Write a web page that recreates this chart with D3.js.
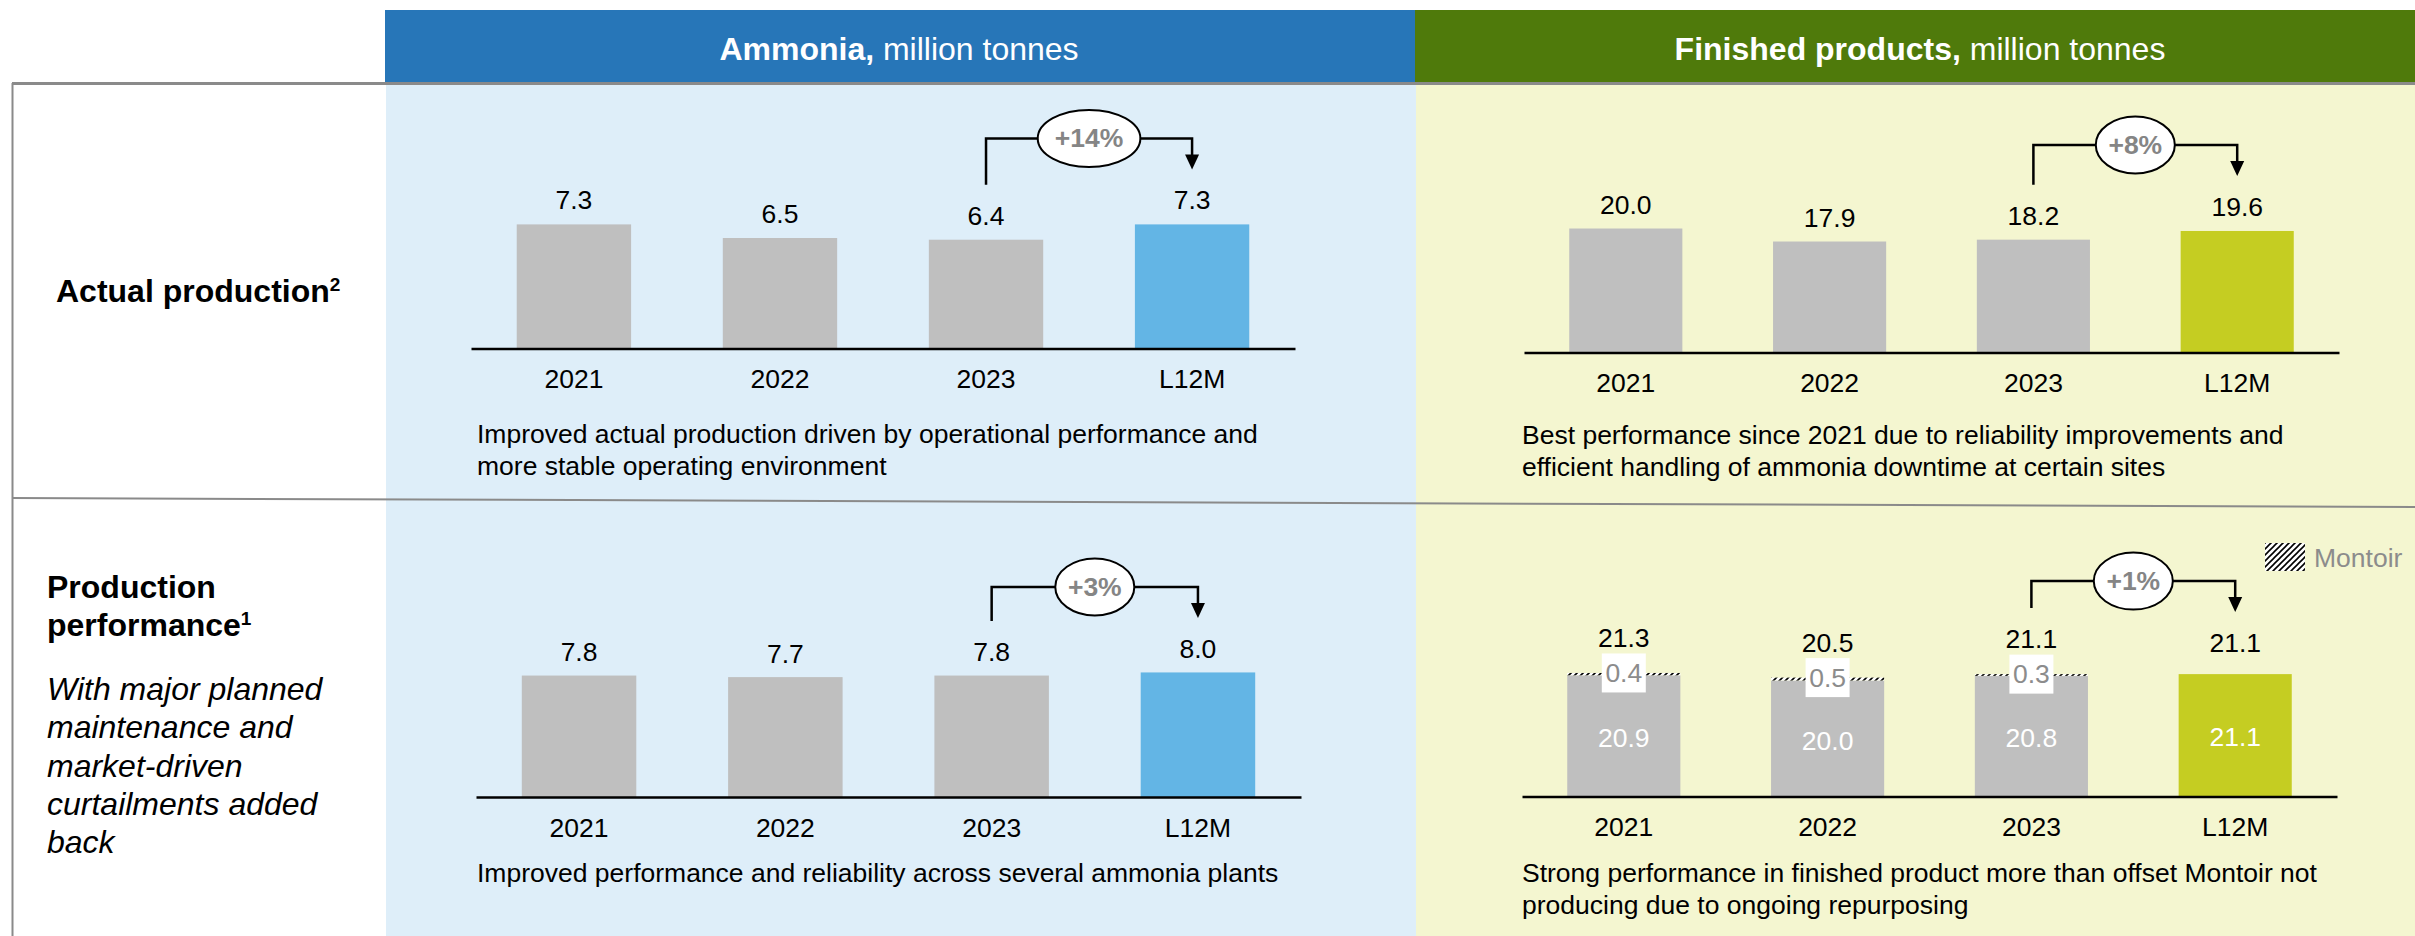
<!DOCTYPE html>
<html>
<head>
<meta charset="utf-8">
<script src="https://cdn.jsdelivr.net/npm/d3@7"></script>
<style>
  html, body { margin: 0; padding: 0; background: #fff; }
  svg { display: block; font-family: "Liberation Sans", Arial, sans-serif; }
</style>
</head>
<body>
<svg id="chart"></svg>
<script>
// --- data ---
const categories = ["2021", "2022", "2023", "L12M"];

const ammoniaActual = [7.3, 6.5, 6.4, 7.3];
const finishedActual = [20.0, 17.9, 18.2, 19.6];
const ammoniaPerformance = [7.8, 7.7, 7.8, 8.0];
const finishedPerformance = [20.9, 20.0, 20.8, 21.1];   // excl. Montoir
const montoir = [0.4, 0.5, 0.3, 0];
const finishedPerformanceTotal = [21.3, 20.5, 21.1, 21.1];

const changes = ["+14%", "+8%", "+3%", "+1%"];

const headers = [["Ammonia,", " million tonnes"], ["Finished products,", " million tonnes"]];
const rowNote = ["With major planned", "maintenance and", "market-driven", "curtailments added", "back"];
const notes = [
    ["Improved actual production driven by operational performance and", "more stable operating environment"],
    ["Best performance since 2021 due to reliability improvements and", "efficient handling of ammonia downtime at certain sites"],
    ["Improved performance and reliability across several ammonia plants"],
    ["Strong performance in finished product more than offset Montoir not", "producing due to ongoing repurposing"]
];

const width = 2415;
const height = 936;
const grey = "#bfbfbf";

const svg = d3.select("#chart").attr("width", width).attr("height", height);

// hatch pattern for Montoir
const defs = svg.append("defs");
const hatch = defs.append("pattern")
    .attr("id", "hatch")
    .attr("patternUnits", "userSpaceOnUse")
    .attr("width", 6)
    .attr("height", 6);
hatch.append("rect").attr("width", 6).attr("height", 6).attr("fill", "#fff");
hatch.append("path")
    .attr("d", "M-1,1 l2,-2 M0,6 l6,-6 M5,7 l2,-2")
    .attr("stroke", "#000")
    .attr("stroke-width", 1.6);

// --- backgrounds and headers ---
svg.append("rect").attr("x", 386).attr("y", 84).attr("width", 1030).attr("height", height - 84).attr("fill", "#deeef9");
svg.append("rect").attr("x", 1416).attr("y", 84).attr("width", width - 1416).attr("height", height - 84).attr("fill", "#f4f6d0");
svg.append("rect").attr("x", 385).attr("y", 10).attr("width", 1031).attr("height", 73).attr("fill", "#2776b8");
svg.append("rect").attr("x", 1415).attr("y", 10).attr("width", width - 1415).attr("height", 73).attr("fill", "#4f7a0b");

[899, 1920].forEach((cx, i) => {
    const t = svg.append("text")
        .attr("x", cx)
        .attr("y", 60)
        .attr("text-anchor", "middle")
        .attr("fill", "#fff")
        .style("font-size", "32px");
    t.append("tspan").attr("font-weight", "bold").text(headers[i][0]);
    t.append("tspan").text(headers[i][1]);
});

// frame lines
svg.append("line").attr("x1", 12).attr("x2", width).attr("y1", 83.5).attr("y2", 83.5)
    .attr("stroke", "#8a8a8a").attr("stroke-width", 3);
svg.append("line").attr("x1", 12).attr("x2", width).attr("y1", 498).attr("y2", 507)
    .attr("stroke", "#8a8a8a").attr("stroke-width", 2);
svg.append("line").attr("x1", 12.5).attr("x2", 12.5).attr("y1", 83).attr("y2", height)
    .attr("stroke", "#8a8a8a").attr("stroke-width", 2);

// --- row titles ---
const title1 = svg.append("text").attr("x", 56).attr("y", 302)
    .attr("font-weight", "bold").style("font-size", "32px").attr("fill", "#000");
title1.append("tspan").text("Actual production");
title1.append("tspan").attr("dy", -11).style("font-size", "19px").text("2");

svg.append("text").attr("x", 47).attr("y", 598)
    .attr("font-weight", "bold").style("font-size", "32px").text("Production");
const title2 = svg.append("text").attr("x", 47).attr("y", 636)
    .attr("font-weight", "bold").style("font-size", "32px");
title2.append("tspan").text("performance");
title2.append("tspan").attr("dy", -11).style("font-size", "19px").text("1");

svg.append("g")
    .selectAll("text")
    .data(rowNote)
    .join("text")
    .attr("x", 47)
    .attr("y", (d, i) => 700 + i * 38.3)
    .attr("font-style", "italic")
    .style("font-size", "32px")
    .text(d => d);

// --- panels ---
const panels = [
    { values: ammoniaActual, x0: 471, x1: 1295, base: 348.5, ppu: 17, accent: "#63b5e5", change: changes[0], note: notes[0], noteX: 477, noteY: 443, gap: 15 },
    { values: finishedActual, x0: 1524, x1: 2339, base: 352.5, ppu: 6.2, accent: "#c5cd22", change: changes[1], note: notes[1], noteX: 1522, noteY: 444, gap: 15 },
    { values: ammoniaPerformance, x0: 476, x1: 1301, base: 797, ppu: 15.57, accent: "#63b5e5", change: changes[2], note: notes[2], noteX: 477, noteY: 882, gap: 14.5 },
    { values: finishedPerformance, extra: montoir, totals: finishedPerformanceTotal, x0: 1522, x1: 2337, base: 796.5, ppu: 5.8, accent: "#c5cd22", change: changes[3], note: notes[3], noteX: 1522, noteY: 882, gap: 22 }
];

panels.forEach(p => {
    const g = svg.append("g");
    const totals = p.totals || p.values;

    const x = d3.scaleBand()
        .domain(categories)
        .range([p.x0, p.x1])
        .paddingInner(0.445)
        .paddingOuter(0.222);

    const y = d3.scaleLinear()
        .domain([0, 10])
        .range([p.base, p.base - 10 * p.ppu]);

    const cx = i => x(categories[i]) + x.bandwidth() / 2;
    const labelY = i => y(totals[i]) - (p.extra && p.extra[i] > 0 ? 26 : p.gap);

    // bars
    g.selectAll("rect.bar")
        .data(p.values)
        .join("rect")
        .attr("class", "bar")
        .attr("x", (d, i) => x(categories[i]))
        .attr("y", d => y(d))
        .attr("width", x.bandwidth())
        .attr("height", d => y(0) - y(d))
        .attr("fill", (d, i) => i === categories.length - 1 ? p.accent : grey);

    if (p.extra) {
        // Montoir slice on top
        g.selectAll("rect.extra")
            .data(p.extra)
            .join("rect")
            .attr("class", "extra")
            .attr("x", (d, i) => x(categories[i]))
            .attr("y", (d, i) => y(totals[i]))
            .attr("width", x.bandwidth())
            .attr("height", (d, i) => y(p.values[i]) - y(totals[i]))
            .attr("fill", "url(#hatch)");

        const boxes = g.selectAll("g.mbox")
            .data(p.extra.map((d, i) => ({ d, i })).filter(e => e.d > 0))
            .join("g")
            .attr("class", "mbox");
        boxes.append("rect")
            .attr("x", e => cx(e.i) - 22)
            .attr("y", e => y(totals[e.i]) - 19.5)
            .attr("width", 44)
            .attr("height", 39)
            .attr("fill", "#fff");
        boxes.append("text")
            .attr("x", e => cx(e.i))
            .attr("y", e => y(totals[e.i]) + 9)
            .attr("text-anchor", "middle")
            .attr("fill", "#8c8c8c")
            .style("font-size", "26.5px")
            .text(e => e.d.toFixed(1));

        // inner labels
        g.selectAll("text.inner")
            .data(p.values)
            .join("text")
            .attr("class", "inner")
            .attr("x", (d, i) => cx(i))
            .attr("y", (d, i) => (y(p.values[i]) + y(0)) / 2 + 11)
            .attr("text-anchor", "middle")
            .attr("fill", "#fff")
            .style("font-size", "26.5px")
            .text(d => d.toFixed(1));
    }

    // value labels
    g.selectAll("text.val")
        .data(totals)
        .join("text")
        .attr("class", "val")
        .attr("x", (d, i) => cx(i))
        .attr("y", (d, i) => labelY(i))
        .attr("text-anchor", "middle")
        .attr("fill", "#000")
        .style("font-size", "26.5px")
        .text(d => d.toFixed(1));

    // x axis
    const axis = g.append("g")
        .attr("transform", `translate(0, ${p.base})`)
        .call(d3.axisBottom(x).tickSize(0).tickPadding(21));
    axis.select(".domain").attr("stroke", "#000").attr("stroke-width", 2.5);
    axis.selectAll("text")
        .attr("fill", "#000")
        .style("font-size", "26.5px")
        .style("font-family", "\"Liberation Sans\", Arial, sans-serif");

    // change bracket 2023 -> L12M
    const a = cx(2);
    const b = cx(3);
    const by = labelY(3) - 71;
    const tip = labelY(3) - 40;
    g.append("path")
        .attr("d", `M${a},${labelY(2) - 40}V${by}H${b}V${tip - 12}`)
        .attr("fill", "none")
        .attr("stroke", "#000")
        .attr("stroke-width", 2.5);
    g.append("path")
        .attr("d", `M${b - 7},${tip - 15}L${b + 7},${tip - 15}L${b},${tip}Z`)
        .attr("fill", "#000");

    const mid = (a + b) / 2;
    const ell = g.append("ellipse")
        .attr("cx", mid)
        .attr("cy", by)
        .attr("ry", 28.5)
        .attr("fill", "#fff")
        .attr("stroke", "#000")
        .attr("stroke-width", 2);
    const ct = g.append("text")
        .attr("x", mid)
        .attr("y", by + 9)
        .attr("text-anchor", "middle")
        .attr("font-weight", "bold")
        .attr("fill", "#858585")
        .style("font-size", "26.5px")
        .text(p.change);
    const w = ct.node().getComputedTextLength();
    ell.attr("rx", w * 0.8 - 3.5);

    // note under chart
    g.selectAll("text.note")
        .data(p.note)
        .join("text")
        .attr("class", "note")
        .attr("x", p.noteX)
        .attr("y", (d, i) => p.noteY + i * 32)
        .attr("fill", "#000")
        .style("font-size", "26.5px")
        .text(d => d);
});

// Montoir legend
svg.append("rect").attr("x", 2265).attr("y", 543).attr("width", 40).attr("height", 28).attr("fill", "url(#hatch)");
svg.append("text").attr("x", 2314).attr("y", 567)
    .attr("fill", "#8c8c8c")
    .style("font-size", "26.5px")
    .text("Montoir");
</script>
</body>
</html>
